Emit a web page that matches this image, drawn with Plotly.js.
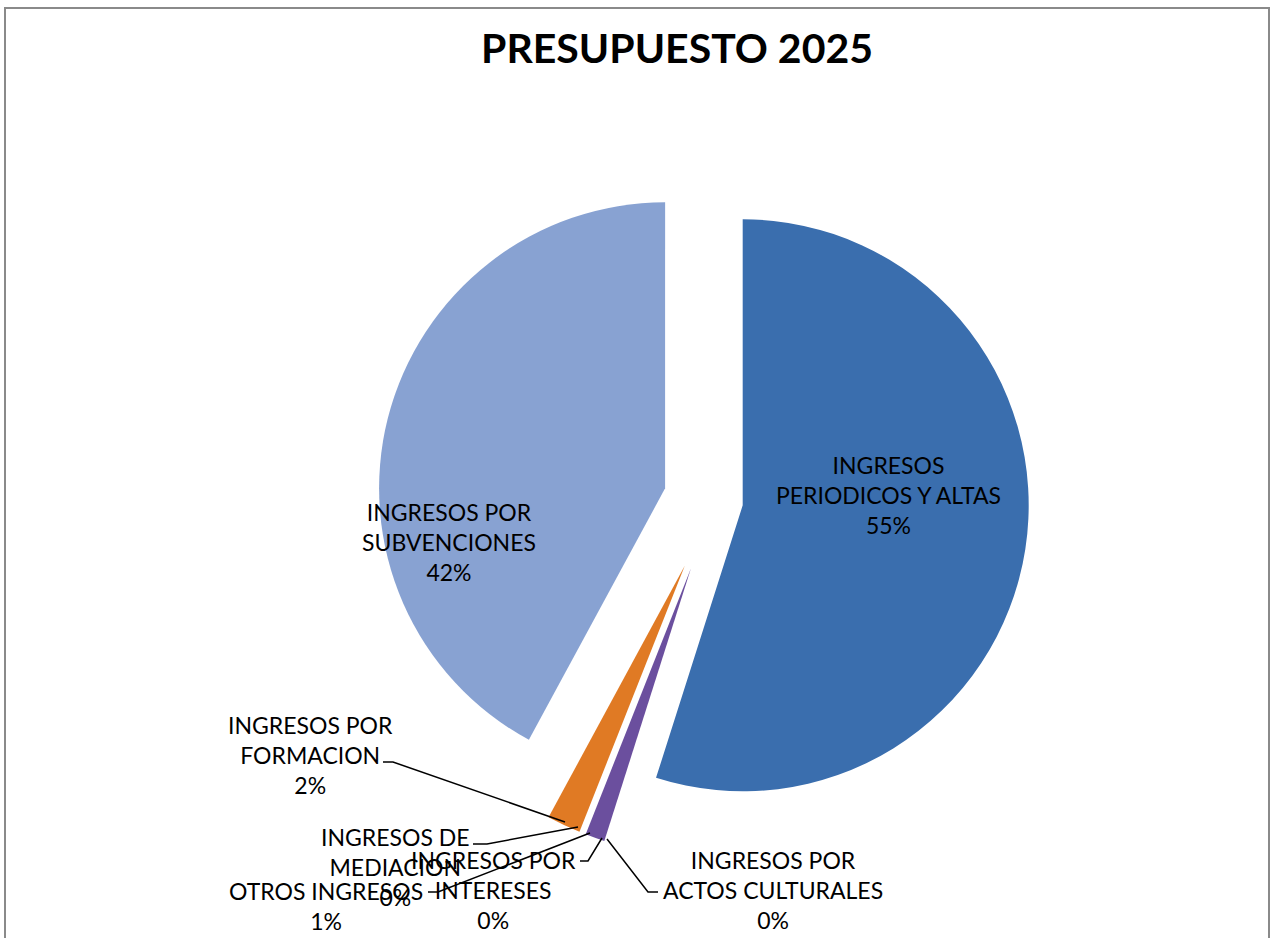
<!DOCTYPE html>
<html>
<head>
<meta charset="utf-8">
<script src="https://cdn.plot.ly/plotly-3.0.1.min.js"></script>
<style>
  html, body { margin: 0; padding: 0; background: #ffffff; overflow: hidden; }
  #frame { position: absolute; left: 4px; top: 7px; width: 1266px; height: 1000px; border: 2px solid #8a8a8a; box-sizing: border-box; }
  #chart { position: absolute; left: 0; top: 0; width: 1278px; height: 938px; }
</style>
</head>
<body>
<div id="frame"></div>
<div id="chart"></div>
<script>
// ---- data ----
const categories = [
  "INGRESOS PERIODICOS Y ALTAS",
  "INGRESOS POR ACTOS CULTURALES",
  "INGRESOS POR INTERESES",
  "OTROS INGRESOS",
  "INGRESOS DE MEDIACION",
  "INGRESOS POR FORMACION",
  "INGRESOS POR SUBVENCIONES"
];
const labelText = [
  "INGRESOS<br>PERIODICOS Y ALTAS",
  "INGRESOS POR<br>ACTOS CULTURALES",
  "INGRESOS POR<br>INTERESES",
  "OTROS INGRESOS",
  "INGRESOS DE<br>MEDIACION",
  "INGRESOS POR<br>FORMACION",
  "INGRESOS POR<br>SUBVENCIONES"
];
const values = [54.9, 0, 0, 1.1, 0, 1.9, 42.1];
const titleText = "PRESUPUESTO 2025";

// ---- styles ----
const colors = ["#3a6eae", "#c0504d", "#9bbb59", "#6b4f9e", "#4bacc6", "#e07a24", "#88a2d2"];
const pulls = [0.098, 0, 0, 0.25, 0, 0.25, 0.18];
const W = 1278, H = 938;
const X = p => p / W;
const Y = p => 1 - p / H;
const FONT = "Lato, 'Open Sans', sans-serif";

const total = values.reduce((a, b) => a + b, 0);
const pct = i => Math.round(values[i] / total * 100) + "%";

// domain: centre (715,501), radius 286, max pull 0.25
const half = 286 * 1.25;
const trace = {
  type: "pie",
  labels: categories,
  values: values,
  textinfo: "none",
  textposition: "none",
  sort: false,
  direction: "clockwise",
  rotation: 0,
  pull: pulls,
  marker: { colors: colors, line: { width: 0 } },
  hoverinfo: "label+percent",
  showlegend: false,
  domain: { x: [X(715 - half), X(715 + half)], y: [Y(501 + half), Y(501 - half)] }
};

// label placement (page pixels) and leader lines
const labelPos = [
  { i: 0, cx: 888, cy: 495, path: null },
  { i: 6, cx: 449, cy: 542, path: null },
  { i: 5, cx: 310, cy: 755, path: [[383, 762], [393, 762], [565, 822]] },
  { i: 4, cx: 395, cy: 867, path: [[473, 844], [487, 844], [578, 827]] },
  { i: 3, cx: 326, cy: 906, path: [[428, 892], [438, 892], [590, 833]] },
  { i: 2, cx: 494, cy: 890, path: [[580, 861], [588, 861], [602, 838]] },
  { i: 1, cx: 773, cy: 890, path: [[658, 892], [648, 892], [607, 839]] }
];

const annotations = labelPos.map(o => ({
  xref: "paper", yref: "paper",
  x: X(o.cx), y: Y(o.cy),
  xanchor: "center", yanchor: "middle",
  text: labelText[o.i] + "<br>" + pct(o.i),
  showarrow: false,
  align: "center",
  font: { family: FONT, size: 23, color: "#000000" }
}));

const shapes = labelPos.filter(o => o.path).map(o => ({
  type: "path",
  xref: "paper", yref: "paper",
  path: o.path.map((p, k) => (k === 0 ? "M" : "L") + X(p[0]) + "," + Y(p[1])).join(" "),
  line: { color: "#000000", width: 1.5 },
  layer: "above"
}));

const layout = {
  width: W, height: H,
  margin: { l: 0, r: 0, t: 0, b: 0 },
  paper_bgcolor: "rgba(0,0,0,0)",
  plot_bgcolor: "rgba(0,0,0,0)",
  title: {
    text: "<b>" + titleText + "</b>",
    font: { family: FONT, size: 41, color: "#000000" },
    x: X(677), xanchor: "center",
    y: Y(49), yanchor: "middle", yref: "container"
  },
  annotations: annotations,
  shapes: shapes,
  showlegend: false
};

Plotly.newPlot("chart", [trace], layout, { displayModeBar: false, staticPlot: true });
</script>
</body>
</html>
